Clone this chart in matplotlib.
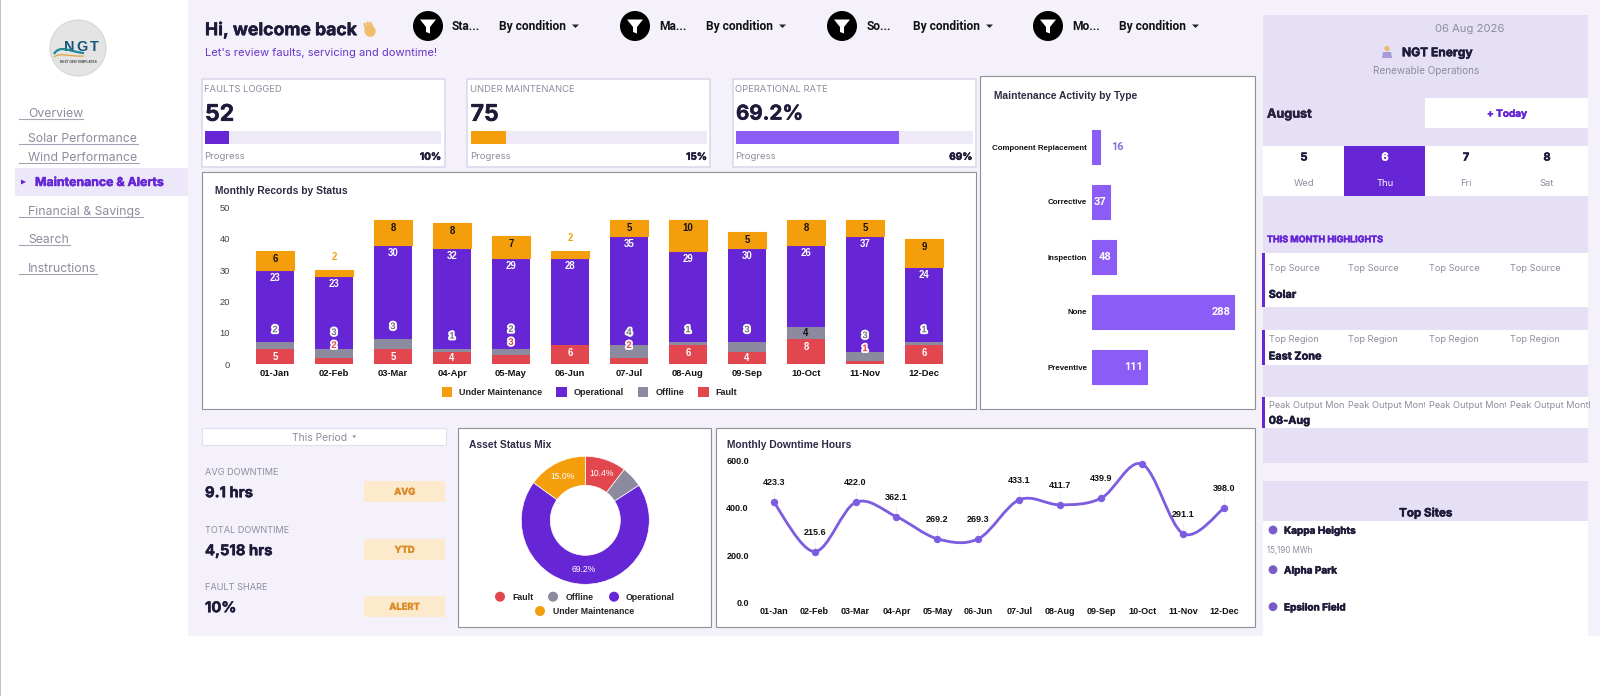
import numpy as np
import matplotlib
matplotlib.use('Agg')
import matplotlib.pyplot as plt
from matplotlib.patches import Rectangle, Circle, Polygon, PathPatch, Ellipse
from matplotlib.path import Path
import matplotlib.patheffects as pe

# ---------- data ----------
months = ['01-Jan','02-Feb','03-Mar','04-Apr','05-May','06-Jun','07-Jul','08-Aug','09-Sep','10-Oct','11-Nov','12-Dec']
fault = [5,2,5,4,3,6,2,6,4,8,1,6]
offline = [2,3,3,1,2,0,4,1,3,4,3,1]
operational = [23,23,30,32,29,28,35,29,30,26,37,24]
under_maint = [6,2,8,8,7,2,5,10,5,8,5,9]
status_names = ['Fault','Offline','Operational','Under Maintenance']
status_share = [10.4,5.4,69.2,15.0]
activity_types = ['Component Replacement','Corrective','Inspection','None','Preventive']
activity_counts = [16,37,48,288,111]
downtime = [423.3,215.6,422.0,362.1,269.2,269.3,433.1,411.7,439.9,582.7,291.1,398.0]
downtime_labels = ['423.3','215.6','422.0','362.1','269.2','269.3','433.1','411.7','439.9','','291.1','398.0']
kpi_titles = ['FAULTS LOGGED','UNDER MAINTENANCE','OPERATIONAL RATE']
kpi_values = ['52','75','69.2%']
kpi_progress = [10,15,69]
side_titles = ['AVG DOWNTIME','TOTAL DOWNTIME','FAULT SHARE']
side_values = ['9.1 hrs','4,518 hrs','10%']
side_badges = ['AVG','YTD','ALERT']
filter_names = ['Sta...','Ma...','So...','Mo...']
nav_items = ['Overview','Solar Performance','Wind Performance','Financial & Savings','Search','Instructions']
cal_days = ['5','6','7','8']
cal_names = ['Wed','Thu','Fri','Sat']
highlight_labels = ['Top Source','Top Region','Peak Output Month']
highlight_values = ['Solar','East Zone','08-Aug']
site_names = ['Kappa Heights','Alpha Park','Epsilon Field']

# ---------- style ----------
W, H = 1600, 696
UI = 'Inter'
CH = 'Liberation Sans'
C_BG, C_LAV, C_BAND = '#F4F1FB', '#E6E0F7', '#ECE7F9'
C_DARK, C_GRAY = '#1E1B3A', '#8E8C9E'
C_PUR, C_VIO, C_AMB, C_RED, C_OFF = '#6626D6', '#8B5CF6', '#F59E0B', '#E2474F', '#8C8A9E'
series_colors = [C_RED, C_OFF, C_PUR, C_AMB]
def pt(px):
    return px * 0.72

fig = plt.figure(figsize=(W/100, H/100), dpi=100, facecolor='white')
bg = fig.add_axes([0, 0, 1, 1], zorder=0)
bg.set_xlim(0, W); bg.set_ylim(H, 0); bg.axis('off')

def rect(x0, y0, x1, y1, fc='white', ec='none', lw=0, z=1):
    bg.add_patch(Rectangle((x0, y0), x1-x0, y1-y0, fc=fc, ec=ec, lw=lw, zorder=z))

def T(x, y, s, px=10, c=C_DARK, w='normal', ha='left', fam=UI, z=5, **kw):
    t = bg.text(x, y + 0.08*px, s, fontsize=pt(px), color=c, fontweight=w, ha=ha, va='center', family=fam, zorder=z, **kw)
    if w == 'bold' and fam == UI:
        t.set_path_effects([pe.withStroke(linewidth=0.35, foreground=c)])
    return t

def axpx(x0, y0, x1, y1):
    a = fig.add_axes([x0/W, 1-y1/H, (x1-x0)/W, (y1-y0)/H], zorder=3)
    a.patch.set_alpha(0)
    return a

# ---------- page backgrounds ----------
rect(188, 0, W, 636, C_BG)
rect(0, 0, 1, H, '#C4C4C8', z=6)
rect(1263, 15, 1588, 463, C_LAV, z=1)
rect(1263, 481, 1588, 521, C_LAV, z=1)
rect(1263, 521, 1588, 636, 'white', z=1)

# ---------- logo ----------
bg.add_patch(Circle((78, 48), 28, fc='#E4E4E5', ec='#D6D6D8', lw=0.8, zorder=2))
for ch, lx in zip('NGT', [69, 82, 94.5]):
    T(lx, 46, ch, 14.5, '#17557A', 'bold', 'center', CH)
T(78.5, 61.3, 'NEXT GEN TEMPLATES', 3.2, '#444444', 'bold', 'center', CH)
sw = Path([(54, 54), (60, 44), (70, 52), (84, 53)], [Path.MOVETO, Path.CURVE4, Path.CURVE4, Path.CURVE4])
bg.add_patch(PathPatch(sw, fc='none', ec='#1B8A94', lw=1.6, zorder=6))
sw2 = Path([(54, 57), (60, 52), (70, 57), (84, 56)], [Path.MOVETO, Path.CURVE4, Path.CURVE4, Path.CURVE4])
bg.add_patch(PathPatch(sw2, fc='none', ec='#E3A23B', lw=0.9, zorder=6))

# ---------- navigation ----------
nav_y = [113, 138, 157, 211, 239, 268]
nav_end = [83, 138, 139, 143, 70, 97]
for s, y, e in zip(nav_items, nav_y, nav_end):
    T(28, y, s, 12.3, C_GRAY)
    bg.plot([19, e], [y+6.3, y+6.3], color='#A6A4B4', lw=0.8, zorder=5)
rect(15, 168, 188, 196, C_BAND, z=2)
bg.add_patch(Polygon([(21, 179.5), (21, 184.5), (26, 182)], fc=C_PUR, zorder=5))
T(35, 182, 'Maintenance & Alerts', 12.3, C_PUR, 'bold')

# ---------- header ----------
T(205, 29, 'Hi, welcome back', 17.6, C_DARK, 'bold')
hand = '#F2BC6B'
bg.add_patch(Ellipse((370, 31), 11, 12, angle=-30, fc=hand, zorder=5))
for dx, dy in [(-3, -5), (0, -6), (3, -6)]:
    bg.plot([370+dx, 367+dx+0.5], [30, 30+dy*1.2], color=hand, lw=1.8, solid_capstyle='round', zorder=5)
T(205, 52, "Let's review faults, servicing and downtime!", 11.15, '#6A35C9')

filter_cx = [428, 635, 842, 1048]
name_x = [452, 659, 867, 1072]
cond_x = [499, 706, 913, 1119]
for cx, nx, ax_, nm in zip(filter_cx, name_x, cond_x, filter_names):
    bg.add_patch(Circle((cx, 26), 15, fc='black', zorder=3))
    bg.add_patch(Polygon([(cx-8, 19.5), (cx+8, 19.5), (cx+2, 27), (cx+2, 33.5), (cx-2, 32), (cx-2, 27)], fc='white', zorder=4))
    T(nx, 26, nm, 12, '#111111', 'bold', fam='Roboto')
    T(ax_, 26, 'By condition', 12, '#111111', 'bold', fam='Roboto')
    bg.add_patch(Polygon([(ax_+73, 24.5), (ax_+80, 24.5), (ax_+76.5, 28)], fc='#222222', zorder=5))

# ---------- KPI cards ----------
card_x = [(201.5, 445), (467, 710), (733, 976)]
track_x = [(205, 441), (470.6, 707), (736, 972.6)]
kpi_colors = [C_PUR, C_AMB, C_VIO]
kpi_px = [23, 23, 20.5]
for (a, b), (t0, t1), tt, v, p, col, vpx in zip(card_x, track_x, kpi_titles, kpi_values, kpi_progress, kpi_colors, kpi_px):
    rect(a, 79, b, 167, 'white', '#DAD5EA', 1.1, z=2)
    T(t0-1, 89, tt, 9.4, C_GRAY)
    T(t0, 113, v, vpx, C_DARK, 'bold')
    rect(t0, 131, t1, 144, '#EDE9F7', z=3)
    rect(t0, 131, t0 + (t1-t0)*p/100, 144, col, z=4)
    T(t0-0.5, 156, 'Progress', 9.6, C_GRAY)
    T(t1, 156, f'{p}%', 10, C_DARK, 'bold', 'right')

CARD_EC = '#8F8F99'
# ---------- stacked bars ----------
rect(202, 172, 976, 409, 'white', CARD_EC, 0.8, z=2)
T(215, 190, 'Monthly Records by Status', 10.2, '#2D2A45', 'bold', fam=CH)
ax = axpx(245.5, 207.3, 953.5, 364.3)
x = np.arange(len(months))
bottom = np.zeros(len(months))
stack = [fault, offline, operational, under_maint]
for k, (vals, col) in enumerate(zip(stack, series_colors)):
    if k == 3:
        ax.bar(x, vals, 0.637, bottom=bottom, color=col, edgecolor=col, linewidth=0.8, joinstyle='round')
    else:
        ax.bar(x, vals, 0.644, bottom=bottom, color=col, linewidth=0)
    bottom = bottom + np.array(vals)
ax.set_xlim(-0.5, 11.5); ax.set_ylim(0, 50)
ax.set_yticks([0, 10, 20, 30, 40, 50])
ax.set_xticks(x, months)
for s in ax.spines.values():
    s.set_visible(False)
ax.tick_params(axis='y', length=0, pad=pt(15.5), labelsize=pt(9.4), labelcolor='#444444')
ax.tick_params(axis='x', length=0, pad=pt(5), labelsize=pt(9.4), labelcolor='#111111')
for l in ax.get_yticklabels() + ax.get_xticklabels():
    l.set_family(CH)
for l in ax.get_xticklabels():
    l.set_fontweight('bold')
hal = [pe.withStroke(linewidth=2.6, foreground='white')]
PXU = 157.0 / 50
def lab(i, top, off_px, s, col, halo=False):
    t = ax.annotate(s, (i, top), xytext=(0, pt(off_px)), textcoords='offset points', ha='center', va='center',
                    fontsize=pt(9.6), fontweight='bold', color=col, family=CH, annotation_clip=False)
    if halo:
        t.set_path_effects(hal)
for i in x:
    f, o, p, u = fault[i], offline[i], operational[i], under_maint[i]
    if f >= 4:
        lab(i, f, -6.5 if f == 4 else -8, str(f), 'white'); fy = None
    else:
        lab(i, f, 13, str(f), C_RED, True); fy = f*PXU + 13
    if o > 0:
        if o >= 4 and f >= 4:
            lab(i, f+o, -6.5, str(o), '#111111')
        else:
            up = (f+o)*PXU + 13
            if fy is not None:
                up = max(up, fy + 13)
            lab(i, f+o, up - (f+o)*PXU, str(o), '#77758A', True)
    lab(i, f+o+p, -8, str(p), 'white')
    if u >= 4:
        lab(i, f+o+p+u, -8, str(u), '#111111')
    else:
        lab(i, f+o+p+u, 13, str(u), C_AMB)

legend_order = [3, 2, 1, 0]
sw_x = [441.7, 556, 637.7, 698]
tx_x = [459, 573.7, 655.7, 715.7]
for k, sx, tx in zip(legend_order, sw_x, tx_x):
    rect(sx, 386.5, sx+10.5, 397, series_colors[k], z=3)
    T(tx, 391.7, status_names[k], 9, '#222222', 'bold', fam=CH)

# ---------- horizontal bars ----------
rect(980, 76, 1255, 409, 'white', CARD_EC, 0.8, z=2)
T(994, 95, 'Maintenance Activity by Type', 10.2, '#2D2A45', 'bold', fam=CH)
ah = axpx(1092, 119.5, 1240, 394.5)
yy = np.arange(len(activity_types))
ah.barh(yy, activity_counts, 0.635, color=C_VIO, edgecolor=C_VIO, linewidth=0.8, joinstyle='round')
ah.set_xlim(0, 148/0.494); ah.set_ylim(4.5, -0.5)
ah.set_yticks(yy, activity_types); ah.set_xticks([])
for s in ah.spines.values():
    s.set_visible(False)
ah.tick_params(axis='y', length=0, pad=pt(5), labelsize=pt(7.9), labelcolor='#111111')
for l in ah.get_yticklabels():
    l.set_family(CH); l.set_fontweight('bold')
for i, v in enumerate(activity_counts):
    if v < 20:
        ah.annotate(str(v), (v, i), xytext=(pt(11), 0), textcoords='offset points', ha='left', va='center',
                    fontsize=pt(11), fontweight='bold', color='#8B6FD8', family='Roboto')
    else:
        ah.annotate(str(v), (v, i), xytext=(pt(-4), 0), textcoords='offset points', ha='right', va='center',
                    fontsize=pt(11), fontweight='bold', color='white', family='Roboto')

# ---------- left lower KPIs ----------
rect(201.7, 428, 445.7, 445, 'white', '#E2DEEE', 0.8, z=2)
T(320, 437, 'This Period', 10.4, C_GRAY, ha='center')
bg.add_patch(Polygon([(352.5, 435.5), (356, 435.5), (354.2, 438)], fc='#777777', zorder=5))
lab_y = [472, 530, 587]
val_y = [492, 550, 607]
bad_y = [(481, 502), (539, 560), (596, 617)]
for tt, v, bd, ly, vy, (b0, b1) in zip(side_titles, side_values, side_badges, lab_y, val_y, bad_y):
    T(205, ly, tt, 9.2, C_GRAY)
    T(205, vy, v, 14.8, C_DARK, 'bold')
    rect(364, b0, 445, b1, '#FDE9CC', z=2)
    T(404.7, (b0+b1)/2, bd, 9.4, '#DB8E2C', 'bold', 'center')

# ---------- donut ----------
rect(458, 428, 711, 627, 'white', CARD_EC, 0.8, z=2)
T(469, 444, 'Asset Status Mix', 10.2, '#2D2A45', 'bold', fam=CH)
ad = axpx(521.3, 456.3, 649.3, 584.3)
wedges, _, autotexts = ad.pie(status_share, colors=series_colors, startangle=90, counterclock=False, radius=1,
                              wedgeprops=dict(width=0.453, edgecolor='white', linewidth=0.5),
                              autopct=lambda p: f'{p:.1f}%' if p > 6 else '', pctdistance=0.775)
for t in autotexts:
    t.set_color('white'); t.set_fontsize(pt(8.6)); t.set_family(CH)
ad.set_xlim(-1, 1); ad.set_ylim(-1, 1)
leg_pts = [(500, 512, 596.7), (553, 566, 596.7), (614, 626, 596.7), (540, 553, 611)]
for (cx, tx, ly), nm, col in zip(leg_pts, status_names, series_colors):
    bg.add_patch(Circle((cx, ly), 5, fc=col, zorder=4))
    T(tx, ly, nm, 8.8, '#222222', 'bold', fam=CH)

# ---------- line chart ----------
rect(716.4, 428, 1255, 627, 'white', CARD_EC, 0.8, z=2)
T(726.6, 444, 'Monthly Downtime Hours', 10.2, '#2D2A45', 'bold', fam=CH)
al = axpx(753.2, 460, 1244.5, 603)
xl = np.arange(len(months), dtype=float)
yl = np.array(downtime)
verts, codes = [(xl[0], yl[0])], [Path.MOVETO]
for i in range(len(xl)-1):
    p0 = (xl[max(i-1, 0)], yl[max(i-1, 0)])
    p1 = (xl[i], yl[i]); p2 = (xl[i+1], yl[i+1])
    p3 = (xl[min(i+2, len(xl)-1)], yl[min(i+2, len(xl)-1)])
    verts += [(p1[0]+(p2[0]-p0[0])/6, p1[1]+(p2[1]-p0[1])/6),
              (p2[0]-(p3[0]-p1[0])/6, p2[1]-(p3[1]-p1[1])/6), p2]
    codes += [Path.CURVE4]*3
al.add_patch(PathPatch(Path(verts, codes), fc='none', ec='#7C5CE0', lw=pt(2.8), clip_on=False))
al.plot(xl, yl, 'o', color='#7C5CE0', ms=pt(7.4), mew=0, clip_on=False)
al.set_xlim(-0.5, 11.5); al.set_ylim(0, 600)
al.set_yticks([0, 200, 400, 600], ['0.0', '200.0', '400.0', '600.0'])
al.set_xticks(xl, months)
for s in al.spines.values():
    s.set_visible(False)
al.tick_params(axis='y', length=0, pad=pt(4.4), labelsize=pt(9), labelcolor='#111111')
al.tick_params(axis='x', length=0, pad=pt(4), labelsize=pt(9), labelcolor='#111111')
for l in al.get_yticklabels() + al.get_xticklabels():
    l.set_family(CH); l.set_fontweight('bold')
for xi, yi, s in zip(xl, yl, downtime_labels):
    if s:
        al.annotate(s, (xi, yi), xytext=(0, pt(19.5)), textcoords='offset points', ha='center', va='center',
                    fontsize=pt(9), fontweight='bold', color='#111111', family=CH, annotation_clip=False)
        al.plot([xi, xi], [yi, yi + 11/143*600], color='#E9E9EE', lw=0.5, zorder=0, clip_on=False)

# ---------- right panel ----------
T(1470, 28, '06 Aug 2026', 11.3, C_GRAY, ha='center')
T(1402, 52.3, 'NGT Energy', 12, C_DARK, 'bold')
bg.add_patch(Circle((1387, 48.5), 2.6, fc='#E8B96A', zorder=5))
bg.add_patch(Polygon([(1382, 58), (1383, 52), (1391, 52), (1392, 58)], fc='#A99BD8', zorder=5))
T(1425.7, 70, 'Renewable Operations', 10, C_GRAY, ha='center')
rect(1425, 98, 1588, 128, 'white', z=2)
T(1507, 113, '+ Today', 10, C_PUR, 'bold', 'center')
T(1267, 113.7, 'August', 12.6, '#2A2140', 'bold')
rect(1263, 146, 1588, 196, 'white', z=2)
cell_x = [1304, 1385, 1466, 1547]
for i, (cx, d, n) in enumerate(zip(cell_x, cal_days, cal_names)):
    sel = i == 1
    if sel:
        rect(1344, 146, 1425, 196, C_PUR, z=3)
    T(cx, 156.7, d, 11, 'white' if sel else C_DARK, 'bold', 'center')
    T(cx, 182.7, n, 9.4, 'white' if sel else C_GRAY, 'normal', 'center')
T(1267, 239, 'THIS MONTH HIGHLIGHTS', 9, C_PUR, 'bold')

rows = [(253, 306.5, 268, 294), (330, 365, 339, 355.7), (397, 428, 405, 420)]
col_x = [1268.7, 1347.7, 1429, 1510]
col_end = [1344, 1425, 1505.7, 1590]
for (r0, r1, ly, vy), lb, vl in zip(rows, highlight_labels, highlight_values):
    rect(1263, r0, 1588, r1, 'white', z=2)
    rect(1262, r0, 1265, r1, C_PUR, z=3)
    for cx, ce in zip(col_x, col_end):
        t = T(cx, ly, lb, 9.2, C_GRAY)
        t.set_clip_path(Rectangle((cx-2, r0), ce-cx+2, r1-r0, transform=bg.transData))
        t.set_clip_on(True)
    T(1268.7, vy, vl, 10.9, C_DARK, 'bold')

T(1425.7, 512.3, 'Top Sites', 11.6, C_DARK, 'bold', 'center')
site_y = [530, 569.7, 606.7]
for nm, sy in zip(site_names, site_y):
    bg.add_patch(Circle((1273, sy), 4.4, fc='#7A5CC8', zorder=5))
    T(1284, sy, nm, 10, C_DARK, 'bold')
T(1266.7, 550, '15,190 MWh', 8, C_GRAY)

fig.savefig('out.png', dpi=100, facecolor='white')
